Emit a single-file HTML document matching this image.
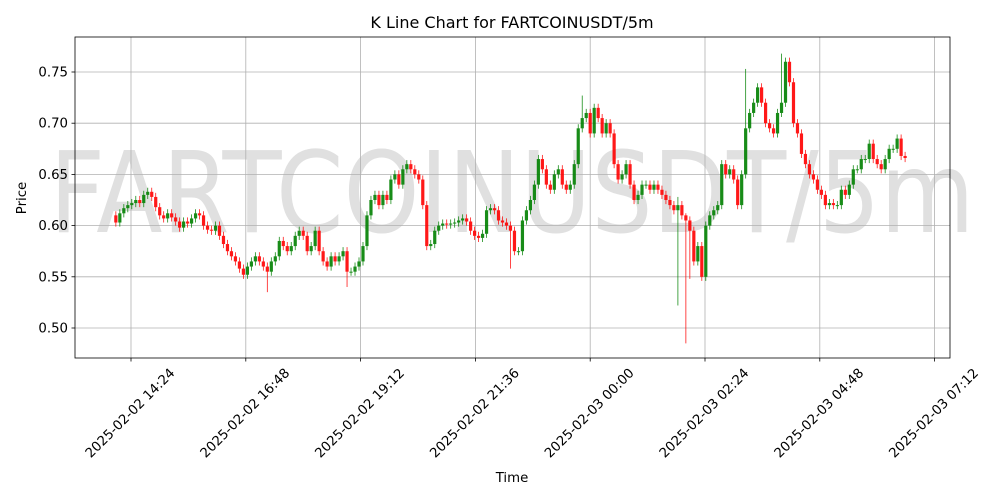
<!DOCTYPE html>
<html><head><meta charset="utf-8"><style>
html,body{margin:0;padding:0;background:#fff;}
svg{display:block;font-family:"DejaVu Sans","Liberation Sans",sans-serif;}
</style></head><body>
<svg id="chart" width="1000" height="500"></svg>
<script>
const closes = [
0.603,0.612,0.617,0.620,0.622,0.625,0.622,0.630,0.633,0.628,0.618,0.610,0.607,0.612,0.608,0.604,0.598,0.604,0.602,0.607,0.612,0.610,0.600,0.596,0.595,0.600,0.590,0.582,0.575,0.570,0.565,0.558,0.552,
0.560,0.565,0.570,0.565,0.560,0.555,0.565,0.570,0.585,0.580,0.575,0.580,0.590,0.595,0.590,0.575,0.580,0.595,0.575,0.565,0.560,0.570,0.565,0.570,0.575,0.555,0.555,0.560,0.565,0.580,0.610,0.625,0.630,0.620,
0.630,0.625,0.645,0.650,0.640,0.655,0.660,0.655,0.650,0.645,0.620,0.580,0.582,0.595,0.600,0.602,0.601,0.602,0.603,0.605,0.607,0.604,0.595,0.590,0.588,0.592,0.615,0.617,0.615,0.605,0.603,0.600,0.595,0.575,
0.575,0.605,0.615,0.625,0.640,0.665,0.655,0.640,0.635,0.650,0.655,0.640,0.635,0.640,0.660,0.695,0.705,0.710,0.690,0.715,0.705,0.690,0.700,0.690,0.660,0.645,0.650,0.660,0.640,0.625,0.630,0.640,0.640,0.635,
0.640,0.635,0.630,0.625,0.620,0.615,0.620,0.610,0.605,0.595,0.565,0.580,0.550,0.600,0.610,0.615,0.620,0.660,0.650,0.655,0.645,0.620,0.650,0.695,0.710,0.720,0.735,0.720,0.700,0.695,0.690,0.710,
0.720,0.760,0.740,0.700,0.690,0.670,0.660,0.650,0.645,0.635,0.630,0.620,0.622,0.620,0.620,0.635,0.630,0.640,0.655,0.655,0.665,0.665,0.680,0.665,0.660,0.655,0.665,0.675,0.675,0.685,0.668,0.666
];
const firstOpen = 0.610;
const lowOverrides = {141:0.522, 143:0.485, 144:0.548, 38:0.535, 58:0.540, 99:0.558};
const highOverrides = {141:0.628, 143:0.612, 167:0.768, 117:0.727, 158:0.753};
const yTicks = [0.50,0.55,0.60,0.65,0.70,0.75];
const xTickLabels = ["2025-02-02 14:24","2025-02-02 16:48","2025-02-02 19:12","2025-02-02 21:36","2025-02-03 00:00","2025-02-03 02:24","2025-02-03 04:48","2025-02-03 07:12"];
const xTickMinutes = [864,1008,1152,1296,1440,1584,1728,1872]; // minutes since 2025-02-02 00:00
const startMinute = 845; // 14:05

const NS="http://www.w3.org/2000/svg";
const svg=document.getElementById('chart');
const L=75,R=950,T=37,B=358;
const yS=v=>72+(0.75-v)/0.05*51.2;
const xS=m=>131+(m-864)*(114.8/144);
function el(tag,attrs,parent){const e=document.createElementNS(NS,tag);for(const k in attrs)e.setAttribute(k,attrs[k]);(parent||svg).appendChild(e);return e;}

// watermark
const wm=el('text',{x:512,y:232,'font-size':112,fill:'#e0e0e0','text-anchor':'middle',textLength:925,lengthAdjust:'spacingAndGlyphs'});


wm.textContent='FARTCOINUSDT/5m';

// grid
yTicks.forEach(v=>{const g=el('line',{x1:L,x2:R,y1:yS(v),y2:yS(v),stroke:'#b0b0b0','stroke-width':0.8});

});
xTickMinutes.forEach(m=>{const g=el('line',{x1:xS(m),x2:xS(m),y1:T,y2:B,stroke:'#b0b0b0','stroke-width':0.8});

});

// candles
let prev=firstOpen;
closes.forEach((c,i)=>{
  const o=prev; prev=c;
  const hi=(highOverrides[i]!==undefined)?highOverrides[i]:Math.max(o,c)+0.004;
  const lo=(lowOverrides[i]!==undefined)?lowOverrides[i]:Math.min(o,c)-0.004;
  const x=xS(startMinute+5*i);
  const col=c>=o?'#008000':'#ff0000';
  const g=el('g',{opacity:0.9});
  
  
  el('line',{x1:x,x2:x,y1:yS(hi),y2:yS(lo),stroke:col,'stroke-width':0.8},g);
  const top=yS(Math.max(o,c)),h=Math.max(1,yS(Math.min(o,c))-top);
  el('rect',{x:x-1.6,y:top,width:3.2,height:h,fill:col},g);
});

// axes frame
const fr=el('rect',{x:L,y:T,width:R-L,height:B-T,fill:'none',stroke:'#000','stroke-width':0.8});



// y ticks
yTicks.forEach(v=>{
  el('line',{x1:L-3.5,x2:L,y1:yS(v),y2:yS(v),stroke:'#000','stroke-width':0.8});
  const t=el('text',{x:L-7,y:yS(v)+4.5,'font-size':13.3,'text-anchor':'end',fill:'#000'});
  
  
  t.textContent=v.toFixed(2);
});
// x ticks
xTickMinutes.forEach((m,i)=>{
  const x=xS(m);
  el('line',{x1:x,x2:x,y1:B,y2:B+3.5,stroke:'#000','stroke-width':0.8});
  const cx=x-1, cy=413;
  const t=el('text',{x:cx,y:cy+4.5,'font-size':13.3,'text-anchor':'middle',fill:'#000',transform:`rotate(-45 ${cx} ${cy})`});
  
  
  t.textContent=xTickLabels[i];
});

const title=el('text',{x:512,y:28,'font-size':16,'text-anchor':'middle'});


title.textContent='K Line Chart for FARTCOINUSDT/5m';
const xt=el('text',{x:512,y:482,'font-size':13.3,'text-anchor':'middle'});


xt.textContent='Time';
const yt=el('text',{x:26,y:198,'font-size':13.3,'text-anchor':'middle',transform:'rotate(-90 26 198)'});


yt.textContent='Price';
</script>
</body></html>
